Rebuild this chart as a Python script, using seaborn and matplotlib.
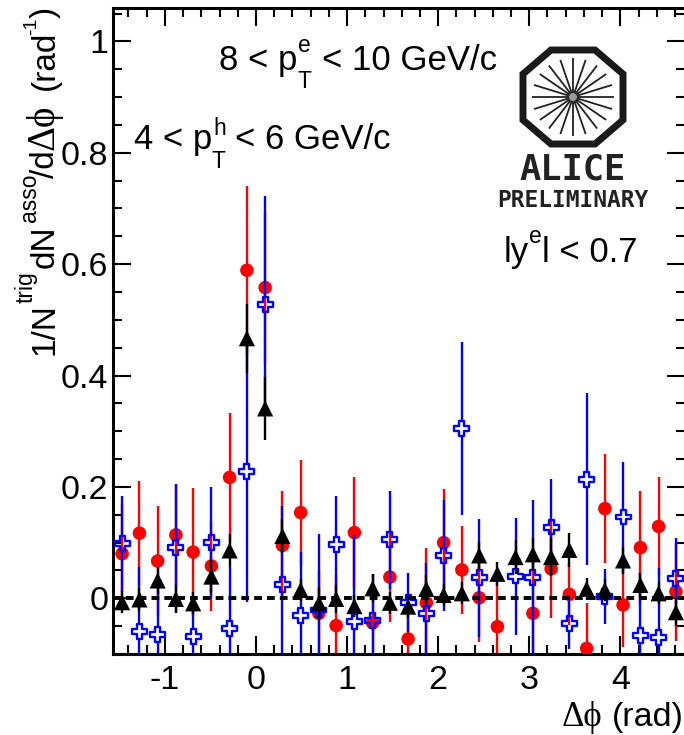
import numpy as np
import pandas as pd
import matplotlib
matplotlib.use("Agg")
import matplotlib.pyplot as plt
from matplotlib.patches import Polygon
from matplotlib.ticker import FixedLocator, MultipleLocator
import seaborn as sns

# -----------------------------
# Data
# -----------------------------

dphi = [-1.47, -1.28, -1.08, -0.88, -0.69, -0.49, -0.29, -0.10,
        0.10, 0.29, 0.49, 0.69, 0.88, 1.08, 1.28, 1.47,
        1.67, 1.87, 2.06, 2.26, 2.45, 2.65, 2.85, 3.04,
        3.24, 3.44, 3.63, 3.83, 4.03, 4.22, 4.42, 4.61]

red_y = [0.080, 0.117, 0.067, 0.114, 0.083, 0.058, 0.217, 0.589,
         0.558, 0.095, 0.154, -0.027, -0.049, 0.118, -0.044, 0.038,
         -0.073, -0.008, 0.100, 0.051, 0.001, -0.051, np.nan, -0.027,
         0.053, 0.007, -0.090, 0.161, -0.012, 0.091, 0.129, 0.012]
red_err = [0.090, 0.093, 0.098, 0.092, 0.115, 0.080, 0.115, 0.152,
           0.136, 0.098, 0.094, 0.078, 0.090, 0.100, 0.050, 0.080,
           0.070, 0.098, 0.096, 0.079, 0.079, 0.081, np.nan, 0.090,
           0.089, 0.055, 0.081, 0.098, 0.075, 0.102, 0.088, 0.088]

blue_y = [0.099, -0.060, -0.065, 0.091, -0.069, 0.100, -0.054, 0.227,
          0.528, 0.024, -0.031, -0.021, 0.096, -0.041, -0.040, 0.105,
          -0.007, -0.028, 0.077, 0.305, 0.037, np.nan, 0.040, 0.038,
          0.128, -0.046, 0.214, 0.003, 0.146, -0.066, -0.070, 0.035]
blue_err = [0.085, 0.117, 0.080, 0.115, 0.069, 0.100, 0.111, 0.233,
            0.195, 0.141, 0.115, 0.136, 0.088, 0.155, 0.084, 0.088,
            0.053, 0.091, 0.100, 0.155, 0.106, np.nan, 0.105, 0.139,
            0.087, 0.045, 0.155, 0.050, 0.098, 0.111, 0.124, 0.073]

black_y = [-0.007, -0.002, 0.032, -0.001, -0.009, 0.039, 0.086, 0.467,
           0.341, 0.112, 0.015, -0.009, -0.001, -0.014, 0.018, -0.008,
           -0.015, 0.017, 0.006, 0.009, 0.077, 0.044, 0.074, 0.079,
           0.074, 0.087, 0.017, 0.015, 0.068, 0.024, 0.009, -0.025]
black_err = [0.020, 0.020, 0.025, 0.025, 0.020, 0.030, 0.030, 0.062,
             0.056, 0.030, 0.020, 0.030, 0.025, 0.020, 0.025, 0.020,
             0.020, 0.025, 0.020, 0.020, 0.025, 0.022, 0.030, 0.030,
             0.034, 0.031, 0.020, 0.020, 0.025, 0.022, 0.020, 0.025]

x_ticks = [-1, 0, 1, 2, 3, 4]
y_ticks = [0, 0.2, 0.4, 0.6, 0.8, 1]
y_tick_labels = ["0", "0.2", "0.4", "0.6", "0.8", "1"]

# -----------------------------
# Figure setup
# -----------------------------

W, H = 684, 735

sns.set_style("ticks")
plt.rcParams["font.family"] = ["Liberation Sans", "DejaVu Sans"]

fig = plt.figure(figsize=(W / 100, H / 100), dpi=100)
ax = fig.add_axes([113 / W, 1 - 654 / H, 572 / W, 646 / H])

df = pd.DataFrame({"dphi": dphi, "red": red_y, "red_err": red_err,
                   "blue": blue_y, "blue_err": blue_err,
                   "black": black_y, "black_err": black_err})

# -----------------------------
# Error bars and markers
# -----------------------------

LW = 1.7
gap = 0.014  # blue bars stop at the open cross

ax.vlines(df["dphi"], df["red"] - df["red_err"], df["red"] + df["red_err"],
          color="#ff0000", lw=LW, zorder=2)
sns.scatterplot(data=df, x="dphi", y="red", marker="o", s=95, color="#ff0000",
                edgecolor="none", ax=ax, zorder=3, legend=False)

ax.vlines(df["dphi"], df["blue"] + gap, df["blue"] + df["blue_err"],
          color="#0000ff", lw=LW, zorder=4)
ax.vlines(df["dphi"], df["blue"] - df["blue_err"], df["blue"] - gap,
          color="#0000ff", lw=LW, zorder=4)
sns.scatterplot(data=df, x="dphi", y="blue", marker="P", s=115, facecolor="none",
                edgecolor="#0000ff", linewidth=1.7, ax=ax, zorder=5, legend=False)

ax.axhline(0, color="black", lw=2.8, dashes=(2.0, 1.3), zorder=5.5)

ax.vlines(df["dphi"], df["black"] - df["black_err"], df["black"] + df["black_err"],
          color="black", lw=LW, zorder=6)
sns.scatterplot(data=df, x="dphi", y="black", marker="^", s=135, color="black",
                edgecolor="none", ax=ax, zorder=7, legend=False)

# -----------------------------
# Axes
# -----------------------------

ax.set_xlim(-1.57, 4.71)
ax.set_ylim(-0.1, 1.06)
ax.set_xlabel("")
ax.set_ylabel("")

ax.xaxis.set_major_locator(FixedLocator(x_ticks))
ax.xaxis.set_minor_locator(MultipleLocator(0.2))
ax.yaxis.set_major_locator(FixedLocator(y_ticks))
ax.yaxis.set_minor_locator(MultipleLocator(0.05))
ax.set_xticklabels([str(t) for t in x_ticks])
ax.set_yticklabels(y_tick_labels)

ax.tick_params(which="major", direction="in", length=13, width=1.5, color="black",
               labelcolor="black", top=True, right=True, labelsize=24.5, pad=3.5)
ax.tick_params(which="minor", direction="in", length=6.5, width=1.5, color="black",
               top=True, right=True)
ax.tick_params(axis="x", which="major", pad=8)
for s in ax.spines.values():
    s.set_visible(True)
    s.set_color("black")
    s.set_linewidth(2.2)

# -----------------------------
# Text (baseline positions in pixels)
# -----------------------------

def px_text(x, y, s, size=25, **kw):
    fig.text(x / W, 1 - y / H, s, va="baseline", fontsize=size, color="black", **kw)

def px_vtext(x, y, s, size=24, **kw):
    fig.text(x / W, 1 - y / H, s, va="baseline", ha="left", rotation=90,
             rotation_mode="anchor", fontsize=size, color="black", **kw)

SCRIPT = 16.5
SERIF = ["Liberation Serif", "DejaVu Serif"]

px_text(219, 70, "8 < p")
px_text(298, 52.5, "e", SCRIPT)
px_text(298, 88, "T", SCRIPT)
px_text(322, 70, "< 10 GeV/c")

px_text(134, 149, "4 < p")
px_text(213, 135, "h", SCRIPT)
px_text(212, 168, "T", SCRIPT)
px_text(235, 149, "< 6 GeV/c")

px_text(504, 262, "ly")
px_text(529, 243, "e", SCRIPT)
px_text(542, 262, "l < 0.7")

px_text(562, 726, "\u0394\u03d5", 25, family=SERIF)
px_text(684, 726, "(rad)", 24.5, ha="right")

px_vtext(54, 355, "1/N")
px_vtext(33, 303, "trig", SCRIPT)
px_vtext(54, 268, "dN")
px_vtext(36, 222, "asso", SCRIPT)
px_vtext(54, 178, "/d")
px_vtext(54, 150, "\u0394\u03d5", 28, family=SERIF)
px_vtext(54, 90, "(rad")
px_vtext(36, 35, "-1", 14)
px_vtext(54, 18, ")")

# -----------------------------
# Logo
# -----------------------------

logo = fig.add_axes([0, 0, 1, 1], facecolor="none")
logo.set_xlim(0, W)
logo.set_ylim(H, 0)
logo.axis("off")

cx, cy = 573, 97
outer = [(-50, -23), (-22, -47), (22, -47), (50, -23), (50, 23), (22, 47), (-22, 47), (-50, 23)]
octagon = [(cx + a, cy + b) for a, b in outer]
logo.add_patch(Polygon(octagon, closed=True, fill=False, edgecolor="#1a1a1a", lw=5.0, joinstyle="miter"))
for ang in np.deg2rad(np.arange(0, 360, 18)):
    logo.plot([cx + 4 * np.cos(ang), cx + 41 * np.cos(ang)],
              [cy + 4 * np.sin(ang), cy + 39 * np.sin(ang)],
              color="#222222", lw=1.3, solid_capstyle="butt")
logo.scatter([cx], [cy], s=90, color="#9a9a9a", edgecolor="none")

logo.text(573, 169, "ALICE", fontsize=25.5, ha="center", va="center", color="#222222",
          family="DejaVu Sans Mono", fontweight="bold")
logo.text(573, 200, "PRELIMINARY", fontsize=16.5, ha="center", va="center", color="#222222",
          family="DejaVu Sans Mono", fontweight="bold")

fig.savefig("out.png", dpi=100, facecolor="white")
